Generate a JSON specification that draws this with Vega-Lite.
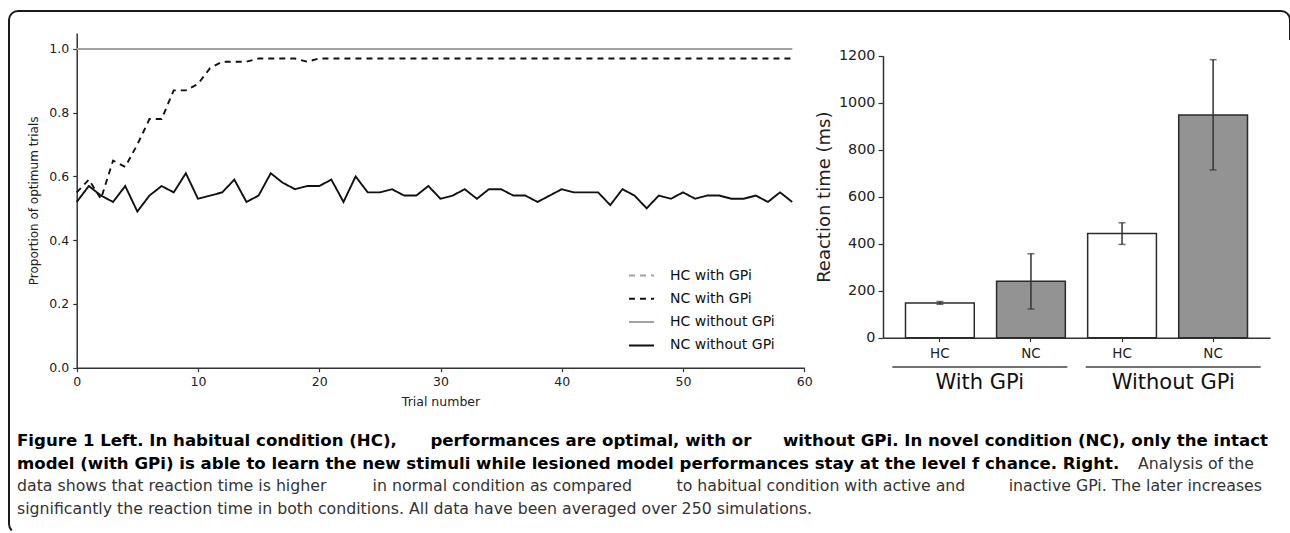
{
  "$schema": "https://vega.github.io/schema/vega-lite/v6.json",
  "width": 1281,
  "height": 522,
  "autosize": {"type": "none"},
  "padding": {"left": 9, "top": 11, "right": 0, "bottom": 0},
  "background": "white",
  "view": {"stroke": "#1a1a1a", "strokeWidth": 2, "cornerRadius": 9, "fill": "white", "strokeDash": [1297, 1768, 630]},
  "config": {
    "font": "DejaVu Sans",
    "axis": {"grid": false, "domainColor": "#333333", "domainWidth": 1.5, "tickColor": "#333333", "tickWidth": 1.2, "tickSize": 4, "labelColor": "#222222", "titleColor": "#222222", "titleFontWeight": "normal", "labelFlush": false, "labelOverlap": false}
  },
  "resolve": {
    "scale": {"x": "independent", "y": "independent", "color": "independent", "strokeDash": "independent"},
    "axis": {"x": "independent", "y": "independent"}
  },
  "layer": [
    {
      "data": {"values": [
        {"trial": 0, "HC with GPi": 1, "NC with GPi": 0.55, "HC without GPi": 1, "NC without GPi": 0.52},
        {"trial": 1, "HC with GPi": 1, "NC with GPi": 0.59, "HC without GPi": 1, "NC without GPi": 0.57},
        {"trial": 2, "HC with GPi": 1, "NC with GPi": 0.53, "HC without GPi": 1, "NC without GPi": 0.54},
        {"trial": 3, "HC with GPi": 1, "NC with GPi": 0.65, "HC without GPi": 1, "NC without GPi": 0.52},
        {"trial": 4, "HC with GPi": 1, "NC with GPi": 0.63, "HC without GPi": 1, "NC without GPi": 0.57},
        {"trial": 5, "HC with GPi": 1, "NC with GPi": 0.70, "HC without GPi": 1, "NC without GPi": 0.49},
        {"trial": 6, "HC with GPi": 1, "NC with GPi": 0.78, "HC without GPi": 1, "NC without GPi": 0.54},
        {"trial": 7, "HC with GPi": 1, "NC with GPi": 0.78, "HC without GPi": 1, "NC without GPi": 0.57},
        {"trial": 8, "HC with GPi": 1, "NC with GPi": 0.87, "HC without GPi": 1, "NC without GPi": 0.55},
        {"trial": 9, "HC with GPi": 1, "NC with GPi": 0.87, "HC without GPi": 1, "NC without GPi": 0.61},
        {"trial": 10, "HC with GPi": 1, "NC with GPi": 0.89, "HC without GPi": 1, "NC without GPi": 0.53},
        {"trial": 11, "HC with GPi": 1, "NC with GPi": 0.94, "HC without GPi": 1, "NC without GPi": 0.54},
        {"trial": 12, "HC with GPi": 1, "NC with GPi": 0.96, "HC without GPi": 1, "NC without GPi": 0.55},
        {"trial": 13, "HC with GPi": 1, "NC with GPi": 0.96, "HC without GPi": 1, "NC without GPi": 0.59},
        {"trial": 14, "HC with GPi": 1, "NC with GPi": 0.96, "HC without GPi": 1, "NC without GPi": 0.52},
        {"trial": 15, "HC with GPi": 1, "NC with GPi": 0.97, "HC without GPi": 1, "NC without GPi": 0.54},
        {"trial": 16, "HC with GPi": 1, "NC with GPi": 0.97, "HC without GPi": 1, "NC without GPi": 0.61},
        {"trial": 17, "HC with GPi": 1, "NC with GPi": 0.97, "HC without GPi": 1, "NC without GPi": 0.58},
        {"trial": 18, "HC with GPi": 1, "NC with GPi": 0.97, "HC without GPi": 1, "NC without GPi": 0.56},
        {"trial": 19, "HC with GPi": 1, "NC with GPi": 0.96, "HC without GPi": 1, "NC without GPi": 0.57},
        {"trial": 20, "HC with GPi": 1, "NC with GPi": 0.97, "HC without GPi": 1, "NC without GPi": 0.57},
        {"trial": 21, "HC with GPi": 1, "NC with GPi": 0.97, "HC without GPi": 1, "NC without GPi": 0.59},
        {"trial": 22, "HC with GPi": 1, "NC with GPi": 0.97, "HC without GPi": 1, "NC without GPi": 0.52},
        {"trial": 23, "HC with GPi": 1, "NC with GPi": 0.97, "HC without GPi": 1, "NC without GPi": 0.60},
        {"trial": 24, "HC with GPi": 1, "NC with GPi": 0.97, "HC without GPi": 1, "NC without GPi": 0.55},
        {"trial": 25, "HC with GPi": 1, "NC with GPi": 0.97, "HC without GPi": 1, "NC without GPi": 0.55},
        {"trial": 26, "HC with GPi": 1, "NC with GPi": 0.97, "HC without GPi": 1, "NC without GPi": 0.56},
        {"trial": 27, "HC with GPi": 1, "NC with GPi": 0.97, "HC without GPi": 1, "NC without GPi": 0.54},
        {"trial": 28, "HC with GPi": 1, "NC with GPi": 0.97, "HC without GPi": 1, "NC without GPi": 0.54},
        {"trial": 29, "HC with GPi": 1, "NC with GPi": 0.97, "HC without GPi": 1, "NC without GPi": 0.57},
        {"trial": 30, "HC with GPi": 1, "NC with GPi": 0.97, "HC without GPi": 1, "NC without GPi": 0.53},
        {"trial": 31, "HC with GPi": 1, "NC with GPi": 0.97, "HC without GPi": 1, "NC without GPi": 0.54},
        {"trial": 32, "HC with GPi": 1, "NC with GPi": 0.97, "HC without GPi": 1, "NC without GPi": 0.56},
        {"trial": 33, "HC with GPi": 1, "NC with GPi": 0.97, "HC without GPi": 1, "NC without GPi": 0.53},
        {"trial": 34, "HC with GPi": 1, "NC with GPi": 0.97, "HC without GPi": 1, "NC without GPi": 0.56},
        {"trial": 35, "HC with GPi": 1, "NC with GPi": 0.97, "HC without GPi": 1, "NC without GPi": 0.56},
        {"trial": 36, "HC with GPi": 1, "NC with GPi": 0.97, "HC without GPi": 1, "NC without GPi": 0.54},
        {"trial": 37, "HC with GPi": 1, "NC with GPi": 0.97, "HC without GPi": 1, "NC without GPi": 0.54},
        {"trial": 38, "HC with GPi": 1, "NC with GPi": 0.97, "HC without GPi": 1, "NC without GPi": 0.52},
        {"trial": 39, "HC with GPi": 1, "NC with GPi": 0.97, "HC without GPi": 1, "NC without GPi": 0.54},
        {"trial": 40, "HC with GPi": 1, "NC with GPi": 0.97, "HC without GPi": 1, "NC without GPi": 0.56},
        {"trial": 41, "HC with GPi": 1, "NC with GPi": 0.97, "HC without GPi": 1, "NC without GPi": 0.55},
        {"trial": 42, "HC with GPi": 1, "NC with GPi": 0.97, "HC without GPi": 1, "NC without GPi": 0.55},
        {"trial": 43, "HC with GPi": 1, "NC with GPi": 0.97, "HC without GPi": 1, "NC without GPi": 0.55},
        {"trial": 44, "HC with GPi": 1, "NC with GPi": 0.97, "HC without GPi": 1, "NC without GPi": 0.51},
        {"trial": 45, "HC with GPi": 1, "NC with GPi": 0.97, "HC without GPi": 1, "NC without GPi": 0.56},
        {"trial": 46, "HC with GPi": 1, "NC with GPi": 0.97, "HC without GPi": 1, "NC without GPi": 0.54},
        {"trial": 47, "HC with GPi": 1, "NC with GPi": 0.97, "HC without GPi": 1, "NC without GPi": 0.50},
        {"trial": 48, "HC with GPi": 1, "NC with GPi": 0.97, "HC without GPi": 1, "NC without GPi": 0.54},
        {"trial": 49, "HC with GPi": 1, "NC with GPi": 0.97, "HC without GPi": 1, "NC without GPi": 0.53},
        {"trial": 50, "HC with GPi": 1, "NC with GPi": 0.97, "HC without GPi": 1, "NC without GPi": 0.55},
        {"trial": 51, "HC with GPi": 1, "NC with GPi": 0.97, "HC without GPi": 1, "NC without GPi": 0.53},
        {"trial": 52, "HC with GPi": 1, "NC with GPi": 0.97, "HC without GPi": 1, "NC without GPi": 0.54},
        {"trial": 53, "HC with GPi": 1, "NC with GPi": 0.97, "HC without GPi": 1, "NC without GPi": 0.54},
        {"trial": 54, "HC with GPi": 1, "NC with GPi": 0.97, "HC without GPi": 1, "NC without GPi": 0.53},
        {"trial": 55, "HC with GPi": 1, "NC with GPi": 0.97, "HC without GPi": 1, "NC without GPi": 0.53},
        {"trial": 56, "HC with GPi": 1, "NC with GPi": 0.97, "HC without GPi": 1, "NC without GPi": 0.54},
        {"trial": 57, "HC with GPi": 1, "NC with GPi": 0.97, "HC without GPi": 1, "NC without GPi": 0.52},
        {"trial": 58, "HC with GPi": 1, "NC with GPi": 0.97, "HC without GPi": 1, "NC without GPi": 0.55},
        {"trial": 59, "HC with GPi": 1, "NC with GPi": 0.97, "HC without GPi": 1, "NC without GPi": 0.52}
      ]},
      "transform": [{"fold": ["HC with GPi", "NC with GPi", "HC without GPi", "NC without GPi"], "as": ["series", "value"]}],
      "mark": {"type": "line", "strokeWidth": 1.9},
      "encoding": {
        "x": {"field": "trial", "type": "quantitative",
          "scale": {"domain": [0, 60], "range": [67.7, 795.3], "nice": false, "zero": false},
          "axis": {"orient": "bottom", "offset": -165.3, "values": [0, 10, 20, 30, 40, 50, 60], "format": "d", "title": "Trial number", "labelFontSize": 12.5, "titleFontSize": 12.5, "labelPadding": 4, "titlePadding": 7}},
        "y": {"field": "value", "type": "quantitative",
          "scale": {"domain": [0, 1.05], "range": [356.7, 22], "nice": false},
          "axis": {"orient": "left", "offset": -67.7, "values": [0, 0.2, 0.4, 0.6, 0.8, 1.0], "format": ".1f", "title": "Proportion of optimum trials", "labelFontSize": 12.5, "titleFontSize": 12, "labelPadding": 4, "titlePadding": 8}},
        "color": {"field": "series", "type": "nominal",
          "scale": {"domain": ["HC with GPi", "NC with GPi", "HC without GPi", "NC without GPi"], "range": ["#a3a3a3", "#111111", "#a3a3a3", "#111111"]},
          "legend": {"orient": "none", "legendX": 619, "legendY": 251, "title": null, "padding": 0, "symbolType": "stroke", "symbolSize": 625, "symbolStrokeWidth": 2, "labelFontSize": 14, "labelColor": "#111111", "labelOffset": 15, "rowPadding": 2.3, "labelFont": "DejaVu Sans"}},
        "strokeDash": {"field": "series", "type": "nominal",
          "scale": {"domain": ["HC with GPi", "NC with GPi", "HC without GPi", "NC without GPi"], "range": [[6, 5], [6, 5], [1, 0], [1, 0]]}}
      }
    },
    {
      "resolve": {"scale": {"x": "independent"}, "axis": {"x": "independent"}},
      "layer": [
        {
          "data": {"values": [
            {"bar": "With GPi HC", "cond": "HC", "rt": 148, "lo": 142, "hi": 154},
            {"bar": "With GPi NC", "cond": "NC", "rt": 240, "lo": 122, "hi": 357},
            {"bar": "Without GPi HC", "cond": "HC", "rt": 443, "lo": 397, "hi": 489},
            {"bar": "Without GPi NC", "cond": "NC", "rt": 948, "lo": 714, "hi": 1183}
          ]},
          "encoding": {
            "x": {"field": "bar", "type": "nominal", "sort": null,
              "scale": {"type": "band", "domain": ["With GPi HC", "With GPi NC", "Without GPi HC", "Without GPi NC"], "range": [874, 1261], "paddingInner": 0.245, "paddingOuter": 0.247},
              "axis": {"orient": "bottom", "offset": -195.3, "title": null, "labelExpr": "slice(datum.label, -2)", "labelAngle": 0, "labelFontSize": 13.5, "labelPadding": 5, "tickSize": 4}}
          },
          "layer": [
            {
              "mark": {"type": "bar", "stroke": "#2b2b2b", "strokeWidth": 1.5},
              "encoding": {
                "y": {"field": "rt", "type": "quantitative",
                  "scale": {"domain": [0, 1200], "range": [326.7, 44.7], "nice": false},
                  "axis": {"orient": "left", "offset": -874, "values": [0, 200, 400, 600, 800, 1000, 1200], "format": "d", "title": "Reaction time (ms)", "titleFontSize": 18, "labelFontSize": 14.4, "labelPadding": 3, "titlePadding": 5, "tickSize": 5}},
                "color": {"field": "cond", "type": "nominal", "scale": {"domain": ["HC", "NC"], "range": ["#ffffff", "#939393"]}, "legend": null}
              }
            },
            {
              "mark": {"type": "rule", "color": "#333333", "strokeWidth": 1.5},
              "encoding": {
                "y": {"field": "lo", "type": "quantitative", "scale": {"domain": [0, 1200], "range": [326.7, 44.7], "nice": false},
                  "axis": {"orient": "left", "offset": -874, "values": [0, 200, 400, 600, 800, 1000, 1200], "format": "d", "title": "Reaction time (ms)", "titleFontSize": 18, "labelFontSize": 14.4, "labelPadding": 3, "titlePadding": 5, "tickSize": 5}},
                "y2": {"field": "hi"}
              }
            },
            {
              "mark": {"type": "tick", "color": "#333333", "thickness": 1.5, "size": 7},
              "encoding": {
                "y": {"field": "lo", "type": "quantitative", "scale": {"domain": [0, 1200], "range": [326.7, 44.7], "nice": false},
                  "axis": {"orient": "left", "offset": -874, "values": [0, 200, 400, 600, 800, 1000, 1200], "format": "d", "title": "Reaction time (ms)", "titleFontSize": 18, "labelFontSize": 14.4, "labelPadding": 3, "titlePadding": 5, "tickSize": 5}}
              }
            },
            {
              "mark": {"type": "tick", "color": "#333333", "thickness": 1.5, "size": 7},
              "encoding": {
                "y": {"field": "hi", "type": "quantitative", "scale": {"domain": [0, 1200], "range": [326.7, 44.7], "nice": false},
                  "axis": {"orient": "left", "offset": -874, "values": [0, 200, 400, 600, 800, 1000, 1200], "format": "d", "title": "Reaction time (ms)", "titleFontSize": 18, "labelFontSize": 14.4, "labelPadding": 3, "titlePadding": 5, "tickSize": 5}}
              }
            }
          ]
        },
        {
          "data": {"values": [{"gpi": "With GPi"}, {"gpi": "Without GPi"}]},
          "encoding": {
            "x": {"field": "gpi", "type": "nominal", "sort": null,
              "scale": {"type": "band", "domain": ["With GPi", "Without GPi"], "range": [874, 1261], "paddingInner": 0.095, "paddingOuter": 0.048},
              "axis": null}
          },
          "layer": [
            {
              "mark": {"type": "bar", "color": "#444444"},
              "encoding": {
                "y": {"datum": -121.5, "type": "quantitative", "scale": {"domain": [0, 1200], "range": [326.7, 44.7], "nice": false},
                  "axis": {"orient": "left", "offset": -874, "values": [0, 200, 400, 600, 800, 1000, 1200], "format": "d", "title": "Reaction time (ms)", "titleFontSize": 18, "labelFontSize": 14.4, "labelPadding": 3, "titlePadding": 5, "tickSize": 5}},
                "y2": {"datum": -128}
              }
            },
            {
              "mark": {"type": "text", "fontSize": 21, "color": "#111111", "baseline": "middle", "font": "DejaVu Sans"},
              "encoding": {
                "y": {"datum": -194, "type": "quantitative", "scale": {"domain": [0, 1200], "range": [326.7, 44.7], "nice": false},
                  "axis": {"orient": "left", "offset": -874, "values": [0, 200, 400, 600, 800, 1000, 1200], "format": "d", "title": "Reaction time (ms)", "titleFontSize": 18, "labelFontSize": 14.4, "labelPadding": 3, "titlePadding": 5, "tickSize": 5}},
                "text": {"field": "gpi"}
              }
            }
          ]
        }
      ]
    },
    {
      "data": {"values": [
        {"id": "1A", "line": 1, "text": "Figure 1 Left. In habitual condition (HC),"},
        {"id": "1B", "line": 1, "text": "performances are optimal, with or"},
        {"id": "1C", "line": 1, "text": "without GPi. In novel condition (NC), only the intact"},
        {"id": "2A", "line": 2, "text": "model (with GPi) is able to learn the new stimuli while lesioned model performances stay at the level f chance. Right."},
        {"id": "2B", "line": 2, "text": "Analysis of the"},
        {"id": "3A", "line": 3, "text": "data shows that reaction time is higher"},
        {"id": "3B", "line": 3, "text": "in normal condition as compared"},
        {"id": "3C", "line": 3, "text": "to habitual condition with active and"},
        {"id": "3D", "line": 3, "text": "inactive GPi. The later increases"},
        {"id": "4A", "line": 4, "text": "significantly the reaction time in both conditions. All data have been averaged over 250 simulations."}
      ]},
      "encoding": {
        "y": {"field": "line", "type": "quantitative", "scale": {"domain": [1, 4], "range": [430, 497.5]}, "axis": null},
        "text": {"field": "text"}
      },
      "layer": [
        {
          "transform": [{"filter": "datum.id == '1A' || datum.id == '2A'"}],
          "mark": {"type": "text", "align": "left", "baseline": "middle", "font": "DejaVu Sans", "fontWeight": "bold", "fontSize": 16.6, "color": "#000000"},
          "encoding": {"x": {"datum": 0, "type": "quantitative", "scale": {"domain": [0, 1], "range": [8, 1259]}, "axis": null}}
        },
        {
          "transform": [{"filter": "datum.id == '1B'"}],
          "mark": {"type": "text", "align": "left", "baseline": "middle", "font": "DejaVu Sans", "fontWeight": "bold", "fontSize": 16.6, "color": "#000000"},
          "encoding": {"x": {"datum": 0.3305, "type": "quantitative", "scale": {"domain": [0, 1], "range": [8, 1259]}, "axis": null}}
        },
        {
          "transform": [{"filter": "datum.id == '1C'"}],
          "mark": {"type": "text", "align": "right", "baseline": "middle", "font": "DejaVu Sans", "fontWeight": "bold", "fontSize": 16.6, "color": "#000000"},
          "encoding": {"x": {"datum": 1, "type": "quantitative", "scale": {"domain": [0, 1], "range": [8, 1259]}, "axis": null}}
        },
        {
          "transform": [{"filter": "datum.id == '2B'"}],
          "mark": {"type": "text", "align": "right", "baseline": "middle", "font": "DejaVu Sans", "fontSize": 15.75, "color": "#333333"},
          "encoding": {"x": {"datum": 0.9888, "type": "quantitative", "scale": {"domain": [0, 1], "range": [8, 1259]}, "axis": null}}
        },
        {
          "transform": [{"filter": "datum.id == '3A' || datum.id == '4A'"}],
          "mark": {"type": "text", "align": "left", "baseline": "middle", "font": "DejaVu Sans", "fontSize": 15.75, "color": "#333333"},
          "encoding": {"x": {"datum": 0, "type": "quantitative", "scale": {"domain": [0, 1], "range": [8, 1259]}, "axis": null}}
        },
        {
          "transform": [{"filter": "datum.id == '3B'"}],
          "mark": {"type": "text", "align": "left", "baseline": "middle", "font": "DejaVu Sans", "fontSize": 15.75, "color": "#333333"},
          "encoding": {"x": {"datum": 0.2842, "type": "quantitative", "scale": {"domain": [0, 1], "range": [8, 1259]}, "axis": null}}
        },
        {
          "transform": [{"filter": "datum.id == '3C'"}],
          "mark": {"type": "text", "align": "left", "baseline": "middle", "font": "DejaVu Sans", "fontSize": 15.75, "color": "#333333"},
          "encoding": {"x": {"datum": 0.5272, "type": "quantitative", "scale": {"domain": [0, 1], "range": [8, 1259]}, "axis": null}}
        },
        {
          "transform": [{"filter": "datum.id == '3D'"}],
          "mark": {"type": "text", "align": "right", "baseline": "middle", "font": "DejaVu Sans", "fontSize": 15.75, "color": "#333333"},
          "encoding": {"x": {"datum": 0.9952, "type": "quantitative", "scale": {"domain": [0, 1], "range": [8, 1259]}, "axis": null}}
        }
      ]
    }
  ]
}
